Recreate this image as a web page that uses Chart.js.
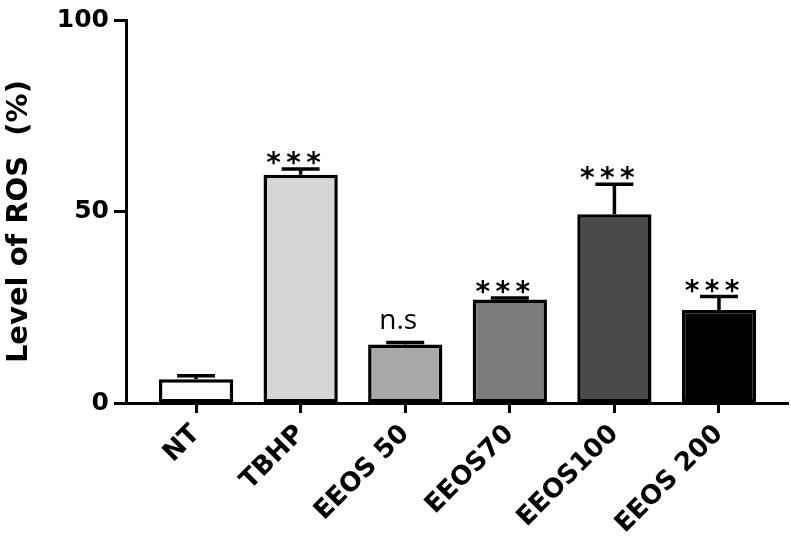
<!DOCTYPE html>
<html>
<head>
<meta charset="utf-8">
<script src="https://cdn.jsdelivr.net/npm/chart.js@4/dist/chart.umd.min.js"></script>
<style>
  html, body { margin: 0; padding: 0; background: #fff; }
  #wrap { width: 791px; height: 537px; }
</style>
</head>
<body>
<div id="wrap"><canvas id="rosChart" width="791" height="537"></canvas></div>
<script>
const groups = ['NT', 'TBHP', 'EEOS 50', 'EEOS70', 'EEOS100', 'EEOS 200'];
const rosLevel = [6.2, 59.6, 15.3, 27.0, 49.3, 24.3];
const rosError = [0.9, 1.5, 0.5, 0.4, 7.8, 3.5];
const signif = ['', '***', 'n.s', '***', '***', '***'];
const barColors = ['#ffffff', '#d6d6d6', '#a8a8a8', '#7b7b7b', '#4a4a4a', '#000000'];
const yTicks = [0, 50, 100];

// upper error bars + significance marks
const errorBars = {
  id: 'errorBars',
  afterDatasetsDraw(chart) {
    const { ctx, scales: { x, y } } = chart;
    ctx.save();
    ctx.strokeStyle = '#000';
    ctx.fillStyle = '#000';
    ctx.lineWidth = 3.5;
    rosLevel.forEach((v, i) => {
      const px = x.getPixelForValue(i);
      const yBar = y.getPixelForValue(v);
      const yTop = y.getPixelForValue(v + rosError[i]);
      ctx.beginPath();
      ctx.moveTo(px, yBar);
      ctx.lineTo(px, yTop);
      ctx.moveTo(px - 19, yTop);
      ctx.lineTo(px + 19, yTop);
      ctx.stroke();

      const mark = signif[i];
      if (!mark) return;
      ctx.textAlign = 'center';
      ctx.textBaseline = 'alphabetic';
      if (mark === '***') {
        ctx.font = 'bold 28px "DejaVu Sans"';
        [-20, 0, 20].forEach(dx => ctx.fillText('*', px - 7 + dx, yTop + 3));
      } else {
        ctx.font = '28px "Open Sans"';
        ctx.fillText(mark, px - 7, yTop - 13);
      }
    });
    ctx.restore();
  }
};

new Chart(document.getElementById('rosChart'), {
  type: 'bar',
  data: {
    datasets: [{
      data: rosLevel.map((v, i) => ({ x: i, y: v })),
      backgroundColor: barColors,
      borderColor: '#000',
      borderWidth: 3.5,
      borderSkipped: false,
      barPercentage: 0.71,
      categoryPercentage: 1
    }]
  },
  options: {
    responsive: false,
    animation: false,
    layout: { padding: { top: 1, right: 3, left: 0, bottom: 0 } },
    plugins: {
      legend: { display: false },
      tooltip: { enabled: false }
    },
    scales: {
      x: {
        type: 'linear',
        min: -0.67,
        max: 5.66,
        offset: false,
        afterBuildTicks: s => { s.ticks = groups.map((g, i) => ({ value: i })); },
        afterFit: s => { s.height = 134; },
        border: { display: true, color: '#000', width: 3 },
        grid: {
          display: true,
          offset: false,
          drawOnChartArea: false,
          drawTicks: true,
          tickLength: 10,
          tickWidth: 3,
          tickColor: '#000'
        },
        ticks: {
          autoSkip: false,
          maxRotation: 45,
          minRotation: 45,
          padding: 6,
          color: '#000',
          font: { family: '"DejaVu Sans"', size: 26, weight: 'bold' },
          callback: v => groups[v]
        }
      },
      y: {
        min: 0,
        max: 100,
        afterBuildTicks: s => { s.ticks = yTicks.map(t => ({ value: t })); },
        afterFit: s => { s.width = 126; },
        border: { display: true, color: '#000', width: 3 },
        grid: {
          display: true,
          drawOnChartArea: false,
          drawTicks: true,
          tickLength: 12,
          tickWidth: 3,
          tickColor: '#000'
        },
        ticks: {
          padding: 5,
          color: '#000',
          font: { family: '"DejaVu Sans"', size: 25, weight: 'bold' }
        },
        title: {
          display: true,
          text: 'Level of ROS  (%)  ',
          color: '#000',
          padding: { top: 2, bottom: 0 },
          font: { family: '"DejaVu Sans"', size: 29, weight: 'bold' }
        }
      }
    }
  },
  plugins: [errorBars]
});
</script>
</body>
</html>
